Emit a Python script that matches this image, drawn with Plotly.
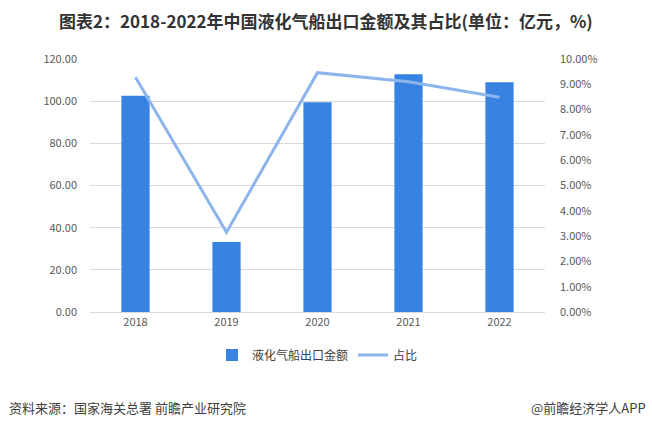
import plotly.graph_objects as go

years = ["2018", "2019", "2020", "2021", "2022"]
export_value = [102.6, 33.2, 99.5, 112.8, 109.0]
share_pct = [9.28, 3.15, 9.46, 9.10, 8.49]
left_ticks = [0, 20, 40, 60, 80, 100, 120]
right_ticks = [0, 1, 2, 3, 4, 5, 6, 7, 8, 9, 10]

FONT = "Noto Sans CJK SC"
fig = go.Figure()
fig.add_trace(go.Bar(
    x=years, y=export_value, name="液化气船出口金额",
    marker=dict(color="#3883E2", line=dict(width=0)), width=0.31,
))
fig.add_trace(go.Scatter(
    x=years, y=[v / 100 for v in share_pct], name="占比", yaxis="y2",
    mode="lines", line=dict(color="#8DB5EC", width=3),
))

fig.update_layout(
    width=652, height=426,
    margin=dict(l=90, r=107, t=59, b=114),
    paper_bgcolor="white", plot_bgcolor="white",
    font=dict(family=FONT, size=11, color="#595959"),
    showlegend=True,
    legend=dict(orientation="h", x=0.5, xanchor="center", y=-0.17, yanchor="middle",
                font=dict(size=12, color="#404040"), traceorder="normal",
                itemwidth=30),
    xaxis=dict(showgrid=False, showline=True, linecolor="#D9D9D9", linewidth=1,
               ticks="", tickfont=dict(size=11, color="#595959")),
    yaxis=dict(range=[0, 120], tickvals=left_ticks,
               ticktext=[f"{v:.2f}" for v in left_ticks],
               showgrid=True, gridcolor="#D9D9D9", gridwidth=1,
               zeroline=False, showline=False, ticks="",
               ticklabelstandoff=12,
               tickfont=dict(size=11, color="#595959")),
    yaxis2=dict(range=[0, 0.1], overlaying="y", side="right",
                tickvals=[v / 100 for v in right_ticks],
                ticktext=[f"{v:.2f}%" for v in right_ticks],
                showgrid=False, zeroline=False, showline=False, ticks="",
                ticklabelstandoff=14,
                tickfont=dict(size=11, color="#595959")),
    bargap=0.69,
    annotations=[
        dict(text="<b>图表2：2018-2022年中国液化气船出口金额及其占比(单位：亿元，%)</b>",
             xref="paper", yref="paper", x=(326 - 90) / 455, y=(312 - 20) / 253,
             xanchor="center", yanchor="middle", showarrow=False,
             font=dict(size=17, color="#333333", family=FONT)),
        dict(text="资料来源：国家海关总署 前瞻产业研究院",
             xref="paper", yref="paper", x=(7 - 90) / 455, y=(312 - 407) / 253,
             xanchor="left", yanchor="middle", showarrow=False,
             font=dict(size=13, color="#404040", family=FONT)),
        dict(text="@前瞻经济学人APP",
             xref="paper", yref="paper", x=(648 - 90) / 455, y=(312 - 407) / 253,
             xanchor="right", yanchor="middle", showarrow=False,
             font=dict(size=13, color="#404040", family=FONT)),
    ],
)

fig.write_html("out.html")
